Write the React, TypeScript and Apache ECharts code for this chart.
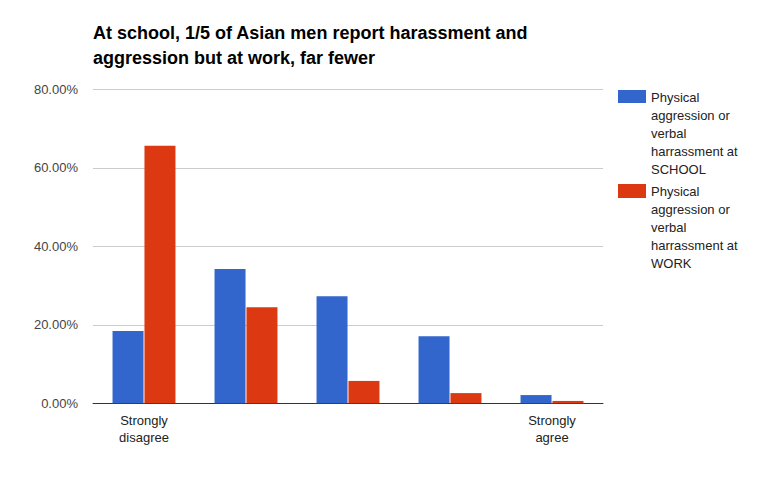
import React, { useEffect, useRef } from "react";
import * as echarts from "echarts";

const categories = ["Strongly\ndisagree", "", "", "", "Strongly\nagree"];
const schoolValues = [18.4, 34.2, 27.3, 17.1, 2.1];
const workValues = [65.6, 24.5, 5.7, 2.6, 0.6];
const seriesNames = [
  "Physical\naggression or\nverbal\nharrassment at\nSCHOOL",
  "Physical\naggression or\nverbal\nharrassment at\nWORK",
];
const titleText =
  "At school, 1/5 of Asian men report harassment and\naggression but at work, far fewer";

const FONT = "Arial, 'Liberation Sans', sans-serif";
const BLUE = "#3366cc";
const RED = "#dc3912";

export default function App() {
  const ref = useRef<HTMLDivElement>(null);
  useEffect(() => {
    if (!ref.current) return;
    const chart = echarts.init(ref.current, undefined, { renderer: "svg" });
    chart.setOption({
      animation: false,
      backgroundColor: "#ffffff",
      title: {
        text: titleText,
        left: 88,
        top: 15,
        textStyle: {
          fontFamily: FONT,
          fontSize: 18,
          fontWeight: "bold",
          color: "#000000",
          lineHeight: 25,
        },
      },
      grid: { left: 93, right: 157, top: 89.3, bottom: 73.7, containLabel: false },
      xAxis: {
        type: "category",
        data: categories,
        axisLine: { show: true, lineStyle: { color: "#333333", width: 1 } },
        axisTick: { show: false },
        axisLabel: {
          fontFamily: FONT,
          fontSize: 13,
          color: "#222222",
          lineHeight: 17,
          margin: 9,
          interval: 0,
        },
      },
      yAxis: {
        type: "value",
        min: 0,
        max: 80,
        interval: 20,
        axisLine: { show: false },
        axisTick: { show: false },
        splitLine: { lineStyle: { color: "#cccccc", width: 1 } },
        axisLabel: {
          fontFamily: FONT,
          fontSize: 13,
          color: "#444444",
          margin: 15,
          formatter: (v: number) => v.toFixed(2) + "%",
        },
      },
      series: [
        {
          name: seriesNames[0],
          type: "bar",
          data: schoolValues,
          barWidth: 31,
          barGap: "3%",
          itemStyle: { color: BLUE },
        },
        {
          name: seriesNames[1],
          type: "bar",
          data: workValues,
          barWidth: 31,
          barGap: "3%",
          itemStyle: { color: RED },
        },
      ],
      graphic: [
        { type: "rect", shape: { x: 618, y: 90, width: 28, height: 13 }, style: { fill: BLUE } },
        {
          type: "text",
          x: 651,
          y: 88,
          style: {
            text: seriesNames[0],
            font: `13px ${FONT}`,
            fill: "#222222",
            lineHeight: 18,
            verticalAlign: "top",
          },
        },
        { type: "rect", shape: { x: 618, y: 184, width: 28, height: 14 }, style: { fill: RED } },
        {
          type: "text",
          x: 651,
          y: 182,
          style: {
            text: seriesNames[1],
            font: `13px ${FONT}`,
            fill: "#222222",
            lineHeight: 18,
            verticalAlign: "top",
          },
        },
      ],
    });
    return () => chart.dispose();
  }, []);
  return <div ref={ref} style={{ width: 760, height: 477, position: "absolute", left: 0, top: 0 }} />;
}
